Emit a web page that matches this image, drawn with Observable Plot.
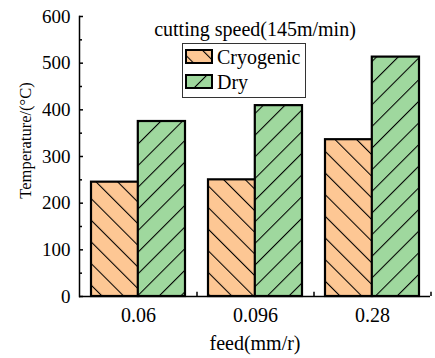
<!DOCTYPE html>
<html><head><meta charset="utf-8">
<script src="https://cdn.jsdelivr.net/npm/d3@7"></script>
<script src="https://cdn.jsdelivr.net/npm/@observablehq/plot@0.6"></script>
<style>
body{margin:0;background:#fff}
#chart{position:relative;width:435px;height:358px}
#chart svg, #chart svg text{font-family:'Liberation Serif', serif !important;}
</style>
</head><body><div id="chart"></div>
<script>
const feeds = ["0.06", "0.096", "0.28"];
const cryogenic = [245, 250, 336];
const dry = [375, 409, 513];
const yTicks = [0, 100, 200, 300, 400, 500, 600];
const yMinor = [50, 150, 250, 350, 450, 550];
const seriesNames = ["Cryogenic", "Dry"];
const titleText = "cutting speed(145m/min)";
const xLabel = "feed(mm/r)";
const yLabel = "Temperature/(°C)";

const cryoRows = feeds.map((f, i) => ({feed: f, type: seriesNames[0], value: cryogenic[i]}));
const dryRows = feeds.map((f, i) => ({feed: f, type: seriesNames[1], value: dry[i]}));

const W = 435, H = 358, mL = 79, mR = 5, mT = 16, mB = 62;
const step = (W - mL - mR) / 3;
const bw = step * 0.8;
const FONT = "'Liberation Serif', serif";

const svg = Plot.plot({
  width: W, height: H,
  marginLeft: mL, marginRight: mR, marginTop: mT, marginBottom: mB,
  style: {fontFamily: FONT, fontSize: "18px", color: "black", background: "white"},
  x: {domain: feeds, paddingInner: 0.2, paddingOuter: 0.1},
  y: {domain: [0, 600]},
  marks: [
    Plot.barY(cryoRows, {x: "feed", y: "value", fill: "url(#hatch-cryo)", stroke: "black", strokeWidth: 2.2, insetRight: bw / 2}),
    Plot.barY(dryRows, {x: "feed", y: "value", fill: "url(#hatch-dry)", stroke: "black", strokeWidth: 2.2, insetLeft: bw / 2}),
    Plot.axisY(yTicks, {tickSize: 0, tickPadding: 9, label: null, fontSize: 19}),
    Plot.axisY(yTicks, {tickSize: -4, text: null, label: null, strokeWidth: 1.5}),
    Plot.axisY(yMinor, {tickSize: -3, text: null, label: null, strokeWidth: 1.5}),
    Plot.axisX({tickSize: 0, tickPadding: 11, label: null, fontSize: 20}),
    Plot.ruleX(feeds, {x: d => d, dx: step / 2, y1: 0, y2: 9, strokeWidth: 1.5}),
    Plot.frame({anchor: "left", strokeWidth: 1.5}),
    Plot.ruleY([0], {strokeWidth: 1.5}),
    Plot.text([titleText], {frameAnchor: "top", lineAnchor: "middle", dy: 13, fontSize: 20}),
    Plot.text([xLabel], {frameAnchor: "bottom", lineAnchor: "middle", dy: 47, fontSize: 20}),
    Plot.text([yLabel], {frameAnchor: "left", textAnchor: "middle", lineAnchor: "middle", dx: -54, dy: -16, rotate: -90, fontSize: 16.5})
  ]
});

const s = d3.select(svg);
const defs = s.insert("defs", ":first-child");
function pattern(id, color, angle) {
  const p = defs.append("pattern").attr("id", id).attr("patternUnits", "userSpaceOnUse")
    .attr("width", 15.3).attr("height", 10).attr("patternTransform", `rotate(${angle})`);
  p.append("rect").attr("width", 15.3).attr("height", 10).attr("fill", color);
  p.append("line").attr("x1", 0.5).attr("y1", 0).attr("x2", 0.5).attr("y2", 10).attr("stroke", "black").attr("stroke-width", 1.1);
}
pattern("hatch-cryo", "#fdc794", -45);
pattern("hatch-dry", "#9fd89e", 45);

const lg = s.append("g").attr("font-size", 20).attr("text-anchor", "start");
lg.append("rect").attr("x", 182.5).attr("y", 43.5).attr("width", 123).attr("height", 54).attr("fill", "white").attr("stroke", "#333").attr("stroke-width", 1);
[["hatch-cryo", seriesNames[0], 50], ["hatch-dry", seriesNames[1], 75]].forEach(([id, name, y]) => {
  lg.append("rect").attr("x", 186).attr("y", y).attr("width", 26).attr("height", 13).attr("fill", `url(#${id})`).attr("stroke", "black").attr("stroke-width", 2);
  lg.append("text").attr("x", 217).attr("y", y + 13.5).attr("text-anchor", "start").text(name);
});

document.getElementById("chart").appendChild(svg);
</script></body></html>
